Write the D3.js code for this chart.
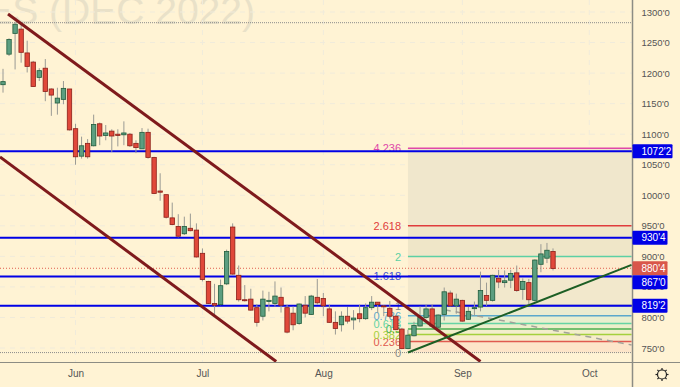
<!DOCTYPE html>
<html>
<head>
<meta charset="utf-8">
<script src="https://cdn.jsdelivr.net/npm/d3@7"></script>
<style>
    html, body { margin: 0; padding: 0; background: #fff3d4; overflow: hidden; }
    svg { display: block; }
    text { font-family: "Liberation Sans", sans-serif; }
</style>
</head>
<body>
<div id="chart"></div>
<script>
// candles, one per trading day
const opens = [1181,1231,1265,1272,1233,1218,1193,1208,1174,1151,1157,1174,1109,1064,1085,1081,1117,1098,1105,1100,1099,1100,1085,1076,1103,1062,1007,1001,963,949,937,946,943,905,859,823,821,855,948,869,829,830,816,802,826,823,833,816,807,790,820,805,833,831,814,792,788,802,796,806,798,816,825,819,815,802,781,749,770,786,800,814,784,805,840,819,828,797,815,817,836,828,864,857,861,873,846,857,828,887,897,908];
const highs = [1207,1257,1284,1283,1253,1220,1208,1223,1175,1176,1187,1174,1117,1096,1092,1132,1119,1115,1108,1108,1121,1102,1090,1110,1109,1063,1036,1001,988,969,965,970,954,913,860,855,862,911,954,885,853,847,822,844,842,859,849,821,818,823,835,837,863,840,821,810,810,817,812,821,823,835,825,820,827,804,783,780,793,818,821,821,805,849,844,839,829,817,826,875,857,870,878,877,878,885,864,863,895,920,922,913];
const lows = [1168,1228,1206,1217,1201,1178,1187,1154,1130,1132,1149,1106,1050,1060,1060,1080,1082,1090,1071,1080,1082,1079,1069,1076,1060,1002,991,962,951,931,935,941,898,859,822,803,820,853,870,826,826,811,785,795,810,818,808,774,779,788,800,804,821,802,791,772,777,790,780,792,796,812,807,802,799,779,748,748,769,785,798,785,782,795,818,806,793,796,803,810,819,826,848,849,848,842,829,822,826,874,889,877];
const closes = [1186,1255,1280,1234,1211,1178,1204,1170,1164,1159,1175,1107,1063,1081,1063,1116,1097,1102,1097,1098,1102,1081,1078,1103,1062,1003,1005,964,952,933,949,942,899,862,823,820,852,908,871,829,828,812,792,830,828,835,820,776,788,822,807,835,824,819,792,782,802,794,799,798,816,825,821,818,802,780,749,771,787,800,814,786,804,842,819,830,794,810,816,844,828,869,858,860,872,844,859,829,894,904,910,880];

// axes
const priceTicks = [1300,1250,1200,1150,1100,1050,1000,950,900,850,800,750];
const monthNames = ['Jun','Jul','Aug','Sep','Oct'];
const monthIndex = [12,33,53,76,97];

// horizontal levels
const blueLevels = [1072.25,930.5,867,819.25];
const blueLabels = ["1072'2","930'4","867'0","819'2"];
const lastPrice = 880.5;
const lastLabel = "880'4";
const dottedLevels = [1282.5,742.5];

// fibonacci tool
const fibNames = ['0','0.236','0.382','0.5','0.618','0.786','1','1.618','2','2.618','4.236'];
const fibPrices = [742.5,760.6,772,781,790,802.6,819.5,867.6,899.6,950,1077];
const fibColors = ['#8a8a8a','#e05a50','#a4d03c','#4caf50','#66d4a4','#5aa8cc','#8a8a8a','#3f51d0','#5cd0a4','#e03c3c','#e048a8'];
const fibFills = ['#fde5c9','#f6eccb','#f2eecb','#ecefcb','#e9efcf','#ebecd0','#f2e8cc','#fdeacd','#efe6c8','#f0e7cc'];
const fibStart = 67;
const fibEnd = 104;

// trend lines as [index, price] pairs
const channelTop = [[0.83,1296.7],[79,727.9]];
const channelBottom = [[-0.5,1062.8],[45.2,727.9]];
const supportLine = [[67,742.6],[104,886]];
const dashedLine = [[73.1,812.5],[104,755]];

const width = 680;
const height = 387;
const plotRight = 632.5;
const plotBottom = 362;

const x = d3.scaleLinear().domain([0, 91]).range([3, 553]);
const y = d3.scaleLinear().domain([1300, 750]).range([12, 348]);

const svg = d3.select('#chart').append('svg')
    .attr('width', width)
    .attr('height', height);

svg.append('defs').append('clipPath')
    .attr('id', 'plot')
    .append('rect')
    .attr('width', plotRight)
    .attr('height', plotBottom);

svg.append('rect')
    .attr('width', width)
    .attr('height', height)
    .attr('fill', '#fff3d4');

const plot = svg.append('g').attr('clip-path', 'url(#plot)');

// big faded symbol text, cut off by the top edge
plot.append('text')
    .attr('x', 255)
    .attr('y', 24)
    .attr('text-anchor', 'end')
    .attr('font-size', 39)
    .attr('fill', '#e9e1c8')
    .text('ES (DEC 2022)');

// grid
plot.append('g').selectAll('line')
    .data(priceTicks)
    .join('line')
    .attr('x1', 0)
    .attr('x2', plotRight)
    .attr('y1', d => y(d))
    .attr('y2', d => y(d))
    .attr('stroke', '#f0ebdb')
    .attr('stroke-width', 1)
    .attr('stroke-dasharray', '5,5');

plot.append('g').selectAll('line')
    .data(monthIndex)
    .join('line')
    .attr('x1', d => x(d))
    .attr('x2', d => x(d))
    .attr('y1', 0)
    .attr('y2', plotBottom)
    .attr('stroke', '#f0ebdb')
    .attr('stroke-width', 1)
    .attr('stroke-dasharray', '5,5');

// fib bands
plot.append('g').selectAll('rect')
    .data(fibFills)
    .join('rect')
    .attr('x', x(fibStart))
    .attr('width', x(fibEnd) - x(fibStart))
    .attr('y', (d, i) => y(fibPrices[i + 1]))
    .attr('height', (d, i) => y(fibPrices[i]) - y(fibPrices[i + 1]))
    .attr('fill', d => d);

// fib lines, the zero line is one of the dotted ones
plot.append('g').selectAll('line')
    .data(fibPrices.slice(1))
    .join('line')
    .attr('x1', x(fibStart))
    .attr('x2', x(fibEnd))
    .attr('y1', d => y(d))
    .attr('y2', d => y(d))
    .attr('stroke', (d, i) => fibColors[i + 1])
    .attr('stroke-width', 1.5);

plot.append('g').selectAll('text')
    .data(fibNames)
    .join('text')
    .attr('x', 401)
    .attr('y', (d, i) => y(fibPrices[i]) + 4)
    .attr('text-anchor', 'end')
    .attr('font-size', 11)
    .attr('fill', (d, i) => fibColors[i])
    .text(d => d);

plot.append('g').selectAll('line')
    .data(dottedLevels)
    .join('line')
    .attr('x1', 0)
    .attr('x2', plotRight)
    .attr('y1', d => y(d))
    .attr('y2', d => y(d))
    .attr('stroke', '#8a8a8a')
    .attr('stroke-width', 1)
    .attr('stroke-dasharray', '1,1');

plot.append('line')
    .attr('x1', 0)
    .attr('x2', plotRight)
    .attr('y1', y(lastPrice))
    .attr('y2', y(lastPrice))
    .attr('stroke', '#e0604f')
    .attr('stroke-width', 1)
    .attr('stroke-dasharray', '1,2');

// horizontal levels
plot.append('g').selectAll('line')
    .data(blueLevels)
    .join('line')
    .attr('x1', 0)
    .attr('x2', plotRight)
    .attr('y1', d => y(d))
    .attr('y2', d => y(d))
    .attr('stroke', '#0000e6')
    .attr('stroke-width', 2);

// dashed projection sits under the candles
const line = d3.line().x(d => x(d[0])).y(d => y(d[1]));

plot.append('path')
    .attr('d', line(dashedLine))
    .attr('fill', 'none')
    .attr('stroke', '#a3a39a')
    .attr('stroke-width', 1.5)
    .attr('stroke-dasharray', '6,5');

// candles
const candles = plot.append('g').selectAll('g')
    .data(opens.map((d, i) => i))
    .join('g');

candles.append('line')
    .attr('x1', i => x(i))
    .attr('x2', i => x(i))
    .attr('y1', i => y(highs[i]))
    .attr('y2', i => y(lows[i]))
    .attr('stroke', '#9a9a94')
    .attr('stroke-width', 1);

candles.append('rect')
    .attr('x', i => x(i) - 2.2)
    .attr('width', 4.4)
    .attr('y', i => y(Math.max(opens[i], closes[i])))
    .attr('height', i => Math.max(1, Math.abs(y(opens[i]) - y(closes[i]))))
    .attr('fill', i => closes[i] >= opens[i] ? '#5c9e80' : '#e0483a')
    .attr('stroke', i => closes[i] >= opens[i] ? '#1f5c3c' : '#8c1f18')
    .attr('stroke-width', 0.8);

// trend lines on top
plot.append('g').selectAll('path')
    .data([channelTop, channelBottom])
    .join('path')
    .attr('d', line)
    .attr('fill', 'none')
    .attr('stroke', '#7f1a1c')
    .attr('stroke-width', 3);

plot.append('path')
    .attr('d', line(supportLine))
    .attr('fill', 'none')
    .attr('stroke', '#1c5e24')
    .attr('stroke-width', 2);

// axis frame
svg.append('line')
    .attr('x1', 0)
    .attr('x2', width)
    .attr('y1', plotBottom + 0.5)
    .attr('y2', plotBottom + 0.5)
    .attr('stroke', '#8c8c84')
    .attr('stroke-width', 1.2);

svg.append('line')
    .attr('x1', plotRight)
    .attr('x2', plotRight)
    .attr('y1', 0)
    .attr('y2', height)
    .attr('stroke', '#8c8c84')
    .attr('stroke-width', 1.5);

// price axis
const yAxis = svg.append('g')
    .attr('transform', `translate(${plotRight + 9}, 0)`)
    .call(d3.axisRight(y)
        .tickValues(priceTicks)
        .tickSize(0)
        .tickPadding(0)
        .tickFormat(d => `${d}'0`));
yAxis.select('.domain').remove();
yAxis.selectAll('text')
    .attr('font-size', 9.5)
    .attr('font-family', '"Liberation Sans", sans-serif')
    .attr('fill', '#555');

// time axis
const xAxis = svg.append('g')
    .attr('transform', `translate(0, ${plotBottom + 8})`)
    .call(d3.axisBottom(x)
        .tickValues(monthIndex)
        .tickSize(0)
        .tickPadding(0)
        .tickFormat((d, i) => monthNames[i]));
xAxis.select('.domain').remove();
xAxis.selectAll('text')
    .attr('font-size', 10)
    .attr('font-family', '"Liberation Sans", sans-serif')
    .attr('fill', '#555');

// price tags, a tag that would hit the one above is pushed down
const tagHeight = 14;
const tags = blueLevels.map((d, i) => ({ price: d, label: blueLabels[i], color: '#0000e6' }));
tags.push({ price: lastPrice, label: lastLabel, color: '#d9574a' });
tags.sort((a, b) => d3.descending(a.price, b.price));

let tagBottom = -Infinity;
tags.forEach(t => {
    t.top = Math.max(y(t.price) - tagHeight / 2, tagBottom);
    tagBottom = t.top + tagHeight;
});

const tagGroups = svg.append('g').selectAll('g')
    .data(tags)
    .join('g');

tagGroups.append('rect')
    .attr('x', plotRight)
    .attr('y', d => d.top)
    .attr('width', d => d.label.length > 5 ? 40 : 35)
    .attr('height', tagHeight)
    .attr('rx', 1)
    .attr('fill', d => d.color);

tagGroups.append('text')
    .attr('x', plotRight + 9)
    .attr('y', d => d.top + 10.5)
    .attr('font-size', 10)
    .attr('fill', '#fff')
    .text(d => d.label);

// settings icon
const gear = svg.append('g')
    .attr('transform', 'translate(662, 374.5)')
    .attr('stroke', '#222')
    .attr('fill', 'none');
gear.append('circle').attr('r', 4.5).attr('stroke-width', 1.2);
gear.selectAll('line')
    .data(d3.range(0, 360, 45))
    .join('line')
    .attr('y1', 4.5)
    .attr('y2', 6.5)
    .attr('stroke-width', 1.2)
    .attr('transform', d => `rotate(${d})`);
</script>
</body>
</html>
